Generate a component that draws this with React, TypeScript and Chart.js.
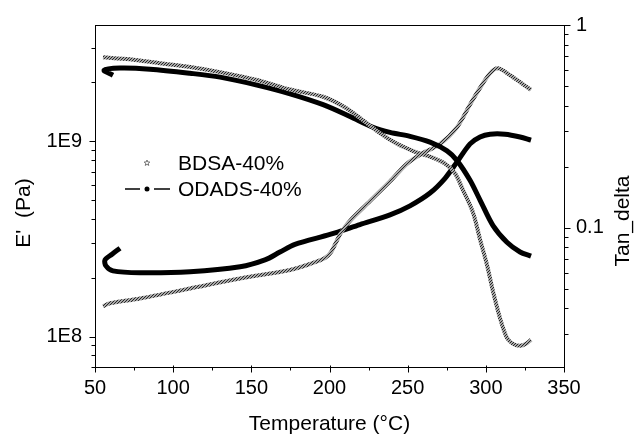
import React, { useEffect, useRef } from "react";
import { Chart, registerables } from "chart.js";

Chart.register(...registerables);

// ---- data ----
const bdsaModTemp = [55.1, 72.4, 91.6, 110.8, 130.0, 153.6, 174.8, 195.9, 210.0, 221.5, 232.3, 243.2, 254.7, 264.3, 273.9, 280.3, 285.4, 291.8, 296.3, 300.8, 304.6, 309.1, 313.5, 317.4, 321.9, 325.7, 328.9];
const bdsaModulus = [2.69e9, 2.63e9, 2.51e9, 2.40e9, 2.26e9, 2.06e9, 1.84e9, 1.69e9, 1.49e9, 1.28e9, 1.10e9, 9.7e8, 8.83e8, 8.34e8, 7.69e8, 6.84e8, 5.62e8, 4.31e8, 3.14e8, 2.32e8, 1.70e8, 1.24e8, 9.84e7, 9.17e7, 8.96e7, 9.17e7, 9.62e7];

const odadsModTemp = [61.5, 55.8, 66.0, 85.2, 110.8, 130.0, 153.6, 174.8, 195.9, 213.1, 227.8, 238.7, 251.5, 264.3, 275.2, 281.6, 289.9, 296.3, 304.6, 313.5, 321.9, 328.9];
const odadsModulus = [2.18e9, 2.31e9, 2.37e9, 2.34e9, 2.23e9, 2.13e9, 1.94e9, 1.75e9, 1.54e9, 1.34e9, 1.18e9, 1.11e9, 1.06e9, 9.9e8, 8.93e8, 7.96e8, 6.31e8, 5.0e8, 3.7e8, 3.04e8, 2.71e8, 2.58e8];

const bdsaTanTemp = [55.1, 59.6, 78.8, 110.8, 142.8, 174.7, 187.5, 197.1, 201.0, 204.2, 207.4, 213.1, 225.9, 238.7, 249.0, 257.9, 270.7, 281.6, 289.9, 296.3, 302.7, 307.8, 315.5, 321.9, 328.9];
const bdsaTanDelta = [0.0409, 0.0423, 0.0447, 0.05, 0.056, 0.0618, 0.0661, 0.0708, 0.0757, 0.0846, 0.0946, 0.108, 0.135, 0.169, 0.205, 0.229, 0.259, 0.313, 0.405, 0.489, 0.578, 0.611, 0.565, 0.522, 0.478];

const odadsTanTemp = [66.0, 60.9, 56.4, 57.0, 61.5, 78.8, 110.8, 142.8, 158.7, 168.3, 177.9, 200.3, 219.5, 238.7, 251.5, 264.3, 273.9, 281.6, 289.9, 296.3, 302.7, 312.3, 321.9, 328.9];
const odadsTanDelta = [0.0791, 0.0739, 0.0692, 0.0647, 0.0611, 0.0598, 0.0605, 0.064, 0.0692, 0.0757, 0.0827, 0.0925, 0.1035, 0.1156, 0.128, 0.148, 0.175, 0.211, 0.259, 0.28, 0.289, 0.289, 0.28, 0.27];

const seriesNames = ["BDSA-40%", "ODADS-40%"];
const xTitle = "Temperature (°C)";
const leftTitle = "E'  (Pa)";
const rightTitle = "Tan_delta";
const xTickValues = [50, 100, 150, 200, 250, 300, 350];
const xMinorValues = [75, 125, 175, 225, 275, 325];
const leftMajor = [1e8, 1e9];
const rightMajor = [0.1, 1];
const leftLabels: Record<string, string> = { "100000000": "1E8", "1000000000": "1E9" };
const rightLabels: Record<string, string> = { "0.1": "0.1", "1": "1" };

const xRange = [50, 350];
const leftRange = [6.98e7, 3.94e9];
const rightRange = [0.0205, 1];

const FONT = "'Liberation Sans', Arial, Helvetica, sans-serif";

function pts(xs: number[], ys: number[]) {
  return xs.map((x, i) => ({ x, y: ys[i] }));
}

function logTicks(min: number, max: number) {
  const out: number[] = [];
  for (let e = Math.floor(Math.log10(min)); e <= Math.ceil(Math.log10(max)); e++) {
    for (let m = 1; m <= 9; m++) {
      const v = m * Math.pow(10, e);
      if (v >= min * 0.999 && v <= max * 1.001) out.push(v);
    }
  }
  return out;
}

const frameTicks = {
  id: "frameTicks",
  afterDraw(chart: any) {
    const { ctx, chartArea: a, scales } = chart;
    ctx.save();
    ctx.strokeStyle = "#000";
    ctx.lineWidth = 1;
    const line = (x1: number, y1: number, x2: number, y2: number) => {
      ctx.beginPath();
      ctx.moveTo(x1, y1);
      ctx.lineTo(x2, y2);
      ctx.stroke();
    };
    const L = Math.round(a.left) + 0.5;
    const R = Math.round(a.right) + 0.5;
    const T = Math.round(a.top) + 0.5;
    const B = Math.round(a.bottom) + 0.5;
    ctx.strokeRect(L, T, R - L, B - T);
    const sx = scales.x;
    xTickValues.forEach((v) => {
      const p = Math.round(sx.getPixelForValue(v)) + 0.5;
      line(p, B - 2, p, B + 5);
    });
    xMinorValues.forEach((v) => {
      const p = Math.round(sx.getPixelForValue(v)) + 0.5;
      line(p, B, p, B + 3);
    });
    const sy = scales.y;
    logTicks(leftRange[0], leftRange[1]).forEach((v) => {
      const p = Math.round(sy.getPixelForValue(v)) + 0.5;
      const major = leftMajor.some((m) => Math.abs(m - v) / m < 1e-6);
      line(L, p, L - (major ? 6 : 4), p);
    });
    const sy1 = scales.y1;
    logTicks(rightRange[0], rightRange[1]).forEach((v) => {
      const p = Math.round(sy1.getPixelForValue(v)) + 0.5;
      const major = rightMajor.some((m) => Math.abs(m - v) / m < 1e-6);
      line(R, p, R + (major ? 6 : 4), p);
    });

    // vertical axis titles (both read bottom-to-top)
    ctx.fillStyle = "#000";
    ctx.font = "21px " + FONT;
    ctx.textAlign = "center";
    ctx.textBaseline = "middle";
    ctx.save();
    ctx.translate(24, a.top + 188);
    ctx.rotate(-Math.PI / 2);
    ctx.fillText(leftTitle, 0, 0);
    ctx.restore();
    ctx.save();
    ctx.translate(623, a.top + 196);
    ctx.rotate(-Math.PI / 2);
    ctx.fillText(rightTitle, 0, 0);
    ctx.restore();

    // legend
    const lx = a.left + 52;
    const ly1 = a.top + 138;
    const ly2 = a.top + 164;
    ctx.font = "21px " + FONT;
    ctx.textBaseline = "middle";
    ctx.textAlign = "left";
    ctx.strokeStyle = "#555";
    ctx.lineWidth = 0.8;
    ctx.beginPath();
    for (let i = 0; i < 10; i++) {
      const r = i % 2 === 0 ? 3 : 1.3;
      const ang = -Math.PI / 2 + (i * Math.PI) / 5;
      const px = lx + r * Math.cos(ang);
      const py = ly1 + r * Math.sin(ang);
      if (i === 0) ctx.moveTo(px, py);
      else ctx.lineTo(px, py);
    }
    ctx.closePath();
    ctx.stroke();
    ctx.fillText(seriesNames[0], lx + 31, ly1 + 1);
    ctx.strokeStyle = "#000";
    ctx.lineWidth = 1.5;
    line(lx - 22, ly2, lx - 7, ly2);
    line(lx + 7, ly2, lx + 23, ly2);
    ctx.beginPath();
    ctx.arc(lx, ly2, 2.5, 0, Math.PI * 2);
    ctx.fill();
    ctx.fillText(seriesNames[1], lx + 31, ly2 + 1);
    ctx.restore();
  },
};

export default function App() {
  const ref = useRef<HTMLCanvasElement | null>(null);
  useEffect(() => {
    document.body.style.margin = "0";
    const canvas = ref.current;
    if (!canvas) return;
    // speckled grey texture imitating densely packed open-star symbols
    const pc = document.createElement("canvas");
    pc.width = 3;
    pc.height = 3;
    const pctx = pc.getContext("2d")!;
    pctx.fillStyle = "#a8a8a8";
    pctx.fillRect(0, 0, 3, 3);
    pctx.fillStyle = "#262626";
    pctx.fillRect(0, 0, 1, 1);
    pctx.fillRect(2, 1, 1, 1);
    pctx.fillRect(1, 2, 1, 1);
    const speckle = canvas.getContext("2d")!.createPattern(pc, "repeat");

    const bdsaStyle = {
      borderColor: speckle,
      borderWidth: 4,
      pointRadius: 0,
      showLine: true,
      tension: 0.3,
    };
    const odadsStyle = {
      borderColor: "#000000",
      borderWidth: 5,
      pointRadius: 0,
      showLine: true,
      tension: 0.3,
    };
    const chart = new Chart(canvas, {
      type: "scatter",
      data: {
        datasets: [
          { label: seriesNames[0] + " E'", data: pts(bdsaModTemp, bdsaModulus), yAxisID: "y", ...bdsaStyle },
          { label: seriesNames[1] + " E'", data: pts(odadsModTemp, odadsModulus), yAxisID: "y", ...odadsStyle },
          { label: seriesNames[0] + " tan", data: pts(bdsaTanTemp, bdsaTanDelta), yAxisID: "y1", ...bdsaStyle },
          { label: seriesNames[1] + " tan", data: pts(odadsTanTemp, odadsTanDelta), yAxisID: "y1", ...odadsStyle },
        ],
      },
      options: {
        animation: false,
        responsive: false,
        devicePixelRatio: 1,
        layout: { padding: { top: 19, left: 0, right: 0, bottom: 0 } },
        plugins: { legend: { display: false }, tooltip: { enabled: false } },
        scales: {
          x: {
            type: "linear",
            min: xRange[0],
            max: xRange[1],
            grid: { display: false, drawTicks: false },
            border: { display: false },
            afterBuildTicks: (s: any) => {
              s.ticks = xTickValues.map((v) => ({ value: v }));
            },
            afterFit: (s: any) => {
              s.height = 70;
            },
            ticks: { color: "#000", font: { size: 20, family: FONT }, padding: 9, maxRotation: 0 },
            title: {
              display: true,
              text: xTitle,
              color: "#000",
              font: { size: 21, family: FONT, lineHeight: 1 },
              padding: { top: 0, bottom: 2 },
            },
          },
          y: {
            type: "logarithmic",
            position: "left",
            min: leftRange[0],
            max: leftRange[1],
            grid: { display: false, drawTicks: false },
            border: { display: false },
            afterBuildTicks: (s: any) => {
              s.ticks = leftMajor.map((v) => ({ value: v }));
            },
            afterFit: (s: any) => {
              s.width = 95;
            },
            ticks: {
              color: "#000",
              font: { size: 20, family: FONT },
              padding: 13,
              callback: (v: any) => leftLabels[String(v)] ?? "",
            },
          },
          y1: {
            type: "logarithmic",
            position: "right",
            min: rightRange[0],
            max: rightRange[1],
            grid: { display: false, drawTicks: false },
            border: { display: false },
            afterBuildTicks: (s: any) => {
              s.ticks = rightMajor.map((v) => ({ value: v }));
            },
            afterFit: (s: any) => {
              s.width = 71;
            },
            ticks: {
              color: "#000",
              font: { size: 20, family: FONT },
              padding: 12,
              callback: (v: any) => rightLabels[String(v)] ?? "",
            },
          },
        },
      },
      plugins: [frameTicks],
    } as any);
    return () => chart.destroy();
  }, []);
  return (
    <div style={{ position: "fixed", left: 0, top: 0, width: 635, height: 437, background: "#fff" }}>
      <canvas ref={ref} width={635} height={437} style={{ display: "block" }} />
    </div>
  );
}
